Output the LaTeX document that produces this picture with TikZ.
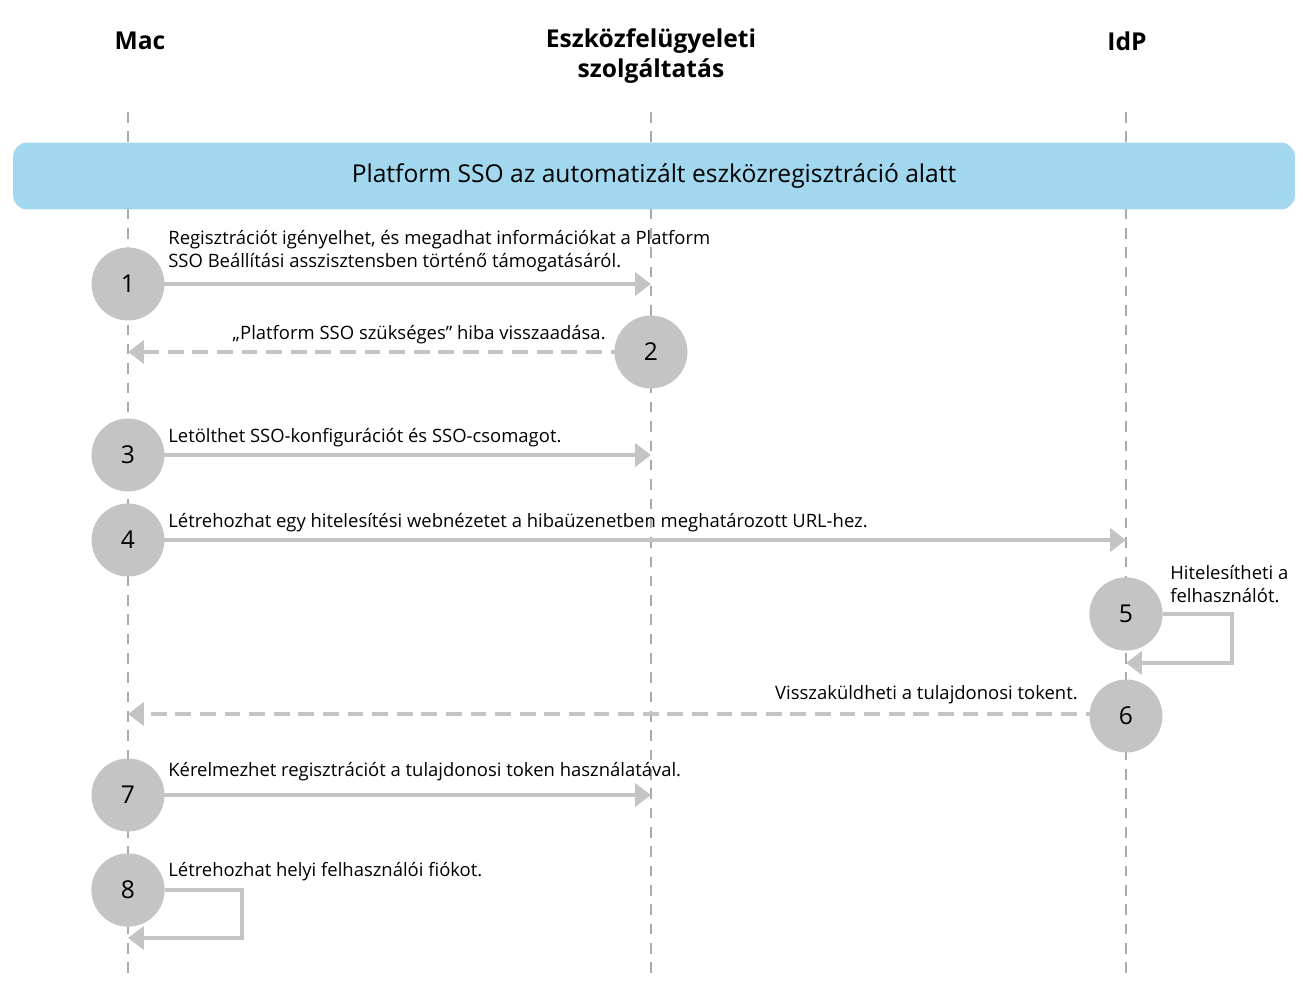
\documentclass[tikz,border=0pt]{standalone}
\usepackage{fontspec}
\setmainfont{Open Sans}
\usetikzlibrary{arrows.meta}
\definecolor{banner}{RGB}{162,216,239}
\definecolor{stepgray}{RGB}{196,196,196}
\definecolor{arrgray}{RGB}{196,196,196}
\definecolor{lifegray}{RGB}{170,170,170}
\tikzset{
	num/.style={circle,fill=stepgray,minimum size=1.46cm,inner sep=0pt,font=\fontsize{14pt}{16pt}\selectfont},
	msg/.style={arrgray,line width=2.3pt,-{Triangle[length=9pt,width=13pt]}},
	rmsg/.style={msg,dash pattern=on 9pt off 5pt},
	lbl/.style={inner sep=0pt,font=\fontsize{10.5pt}{13.2pt}\selectfont,align=left},
	head/.style={font=\fontsize{14pt}{17pt}\selectfont\bfseries,align=center},
	life/.style={lifegray,dash pattern=on 6pt off 5pt,line width=0.6pt}
}
\begin{document}
\begin{tikzpicture}[x=0.02cm,y=-0.02cm]
	\useasboundingbox (0,0) rectangle (1303,987);
	%headers
	\node[head] (mac) at (140,41) {Mac};
	\node[head] (mdm) at (651,56) {Eszközfelügyeleti\\szolgáltatás};
	\node[head] (idp) at (1127,41) {IdP};
	
	%lifelines
	\coordinate (mt) at (128,112); \coordinate (mb) at (128,975);
	\coordinate (st) at (651,112); \coordinate (sb) at (651,975);
	\coordinate (it) at (1126,112); \coordinate (ib) at (1126,975);
	\draw[life] (mt)--(mb);
	\draw[life] (st)--(sb);
	\draw[life] (it)--(ib);
	
	%banner
	\node[fill=banner,rounded corners=8pt,minimum width=25.64cm,minimum height=1.34cm,
		font=\fontsize{14pt}{17pt}\selectfont] (ban) at (654,176) {Platform SSO az automatizált eszközregisztráció alatt};
	
	%step 1
	\coordinate (a1) at (651,284);
	\draw[msg] (128,284)--(a1);
	\node[num] (n1) at (128,284) {1};
	\node[lbl,anchor=west] (l1) at (168,251) {Regisztrációt igényelhet, és megadhat információkat a Platform\\SSO Beállítási asszisztensben történő támogatásáról.};
	
	%step 2
	\coordinate (a2) at (128,352);
	\draw[rmsg] (651,352)--(a2);
	\node[num] (n2) at (651,352) {2};
	\node[lbl,anchor=east] (l2) at (606,335) {„Platform SSO szükséges” hiba visszaadása.};
	
	%step 3
	\coordinate (a3) at (651,455);
	\draw[msg] (128,455)--(a3);
	\node[num] (n3) at (128,455) {3};
	\node[lbl,anchor=west] (l3) at (168,438) {Letölthet SSO-konfigurációt és SSO-csomagot.};
	
	%step 4
	\coordinate (a4) at (1126,540);
	\draw[msg] (128,540)--(a4);
	\node[num] (n4) at (128,540) {4};
	\node[lbl,anchor=west] (l4) at (168,523) {Létrehozhat egy hitelesítési webnézetet a hibaüzenetben meghatározott URL-hez.};
	
	%step 5
	\node[num] (n5) at (1126,614) {5};
	\coordinate (a5) at (1126,663);
	\draw[msg] (n5.east)--(1232,614)--(1232,663)--(a5);
	\node[num] at (1126,614) {5};
	\node[lbl,anchor=west] (l5) at (1170,584) {Hitelesítheti a\\felhasználót.};
	
	%step 6
	\coordinate (a6) at (128,714);
	\draw[rmsg] (1126,714)--(a6);
	\node[num] (n6) at (1126,716) {6};
	\node[lbl,anchor=east] (l6) at (1078,695) {Visszaküldheti a tulajdonosi tokent.};
	
	%step 7
	\coordinate (a7) at (651,795);
	\draw[msg] (128,795)--(a7);
	\node[num] (n7) at (128,795) {7};
	\node[lbl,anchor=west] (l7) at (168,772) {Kérelmezhet regisztrációt a tulajdonosi token használatával.};
	
	%step 8
	\node[num] (n8) at (128,890) {8};
	\coordinate (a8) at (128,938);
	\draw[msg] (n8.east)--(242,890)--(242,938)--(a8);
	\node[num] at (128,890) {8};
	\node[lbl,anchor=west] (l8) at (168,872) {Létrehozhat helyi felhasználói fiókot.};
\end{tikzpicture}
\end{document}
